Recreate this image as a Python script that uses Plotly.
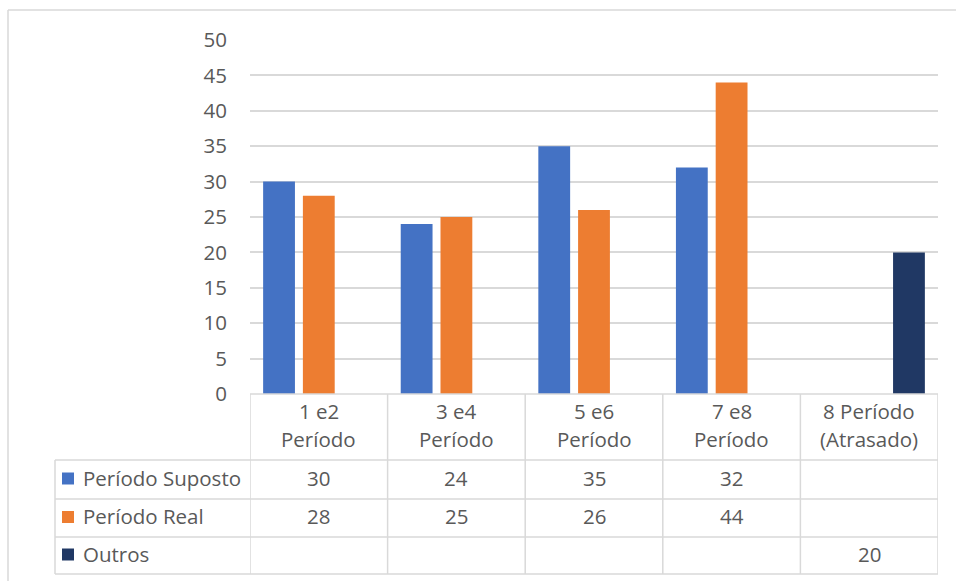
import plotly.graph_objects as go

# Data
categories = ["1 e2<br>Período", "3 e4<br>Período", "5 e6<br>Período",
              "7 e8<br>Período", "8 Período<br>(Atrasado)"]
series_names = ["Período Suposto", "Período Real", "Outros"]
suposto = [30, 24, 35, 32, None]
real = [28, 25, 26, 44, None]
outros = [None, None, None, None, 20]
y_ticks = [0, 5, 10, 15, 20, 25, 30, 35, 40, 45, 50]

colors = ["#4472C4", "#ED7D31", "#203864"]
series_values = [suposto, real, outros]

W, H = 956, 581
FONT = "Open Sans"
FS = 20.5
TXT = "#595959"
GRID = "#D9D9D9"


def py(pixel_y):
    """Convert a pixel row (from top) into paper y."""
    return 1 - pixel_y / H


def px(pixel_x):
    return pixel_x / W


fig = go.Figure()
idx = list(range(len(categories)))
for name, vals, col in zip(series_names, series_values, colors):
    fig.add_trace(go.Bar(x=idx, y=vals, name=name, marker_color=col,
                         marker_line_width=0, showlegend=False))

# layout geometry (pixels)
plot_left, plot_right = 250, 938
plot_top, plot_bottom = 40, 394
row_lines = [460, 499, 537, 574]
legend_left = 55

fig.update_layout(
    width=W, height=H,
    margin=dict(l=0, r=0, t=0, b=0, pad=0, autoexpand=False),
    paper_bgcolor="white", plot_bgcolor="white",
    barmode="group", bargap=0.133, bargroupgap=0.2,
    font=dict(family=FONT, size=FS, color=TXT),
    xaxis=dict(domain=[px(plot_left), px(plot_right)],
               range=[-0.5, len(categories) - 0.5],
               showticklabels=False, showgrid=False, zeroline=False,
               showline=False, fixedrange=True, automargin=False),
    yaxis=dict(domain=[py(plot_bottom), py(plot_top)],
               range=[0, 50], tickvals=y_ticks,
               showgrid=True, gridcolor=GRID, gridwidth=1.5,
               zeroline=False, showline=False, automargin=False,
               ticklabelstandoff=22,
               tickfont=dict(family=FONT, size=FS, color=TXT)),
)

shapes = []
line_style = dict(color=GRID, width=1.5)
# outer chart border
shapes.append(dict(type="line", xref="paper", yref="paper",
                   x0=px(8), x1=1.01, y0=py(10), y1=py(10), line=line_style))
shapes.append(dict(type="line", xref="paper", yref="paper",
                   x0=px(8), x1=px(8), y0=py(10), y1=-0.01, line=line_style))
# table: top border (axis line) across the value columns
shapes.append(dict(type="line", xref="x", yref="paper",
                   x0=-0.5, x1=len(categories) - 0.5,
                   y0=py(plot_bottom), y1=py(plot_bottom), line=line_style))
# horizontal row lines
for r in row_lines:
    shapes.append(dict(type="line", xref="paper", yref="paper",
                       x0=px(legend_left), x1=px(plot_right),
                       y0=py(r), y1=py(r), line=line_style))
# vertical lines at category boundaries
for i in range(len(categories) + 1):
    shapes.append(dict(type="line", xref="x", yref="paper",
                       x0=i - 0.5, x1=i - 0.5,
                       y0=py(plot_bottom), y1=py(row_lines[-1]),
                       line=line_style))
# legend column left edge
shapes.append(dict(type="line", xref="paper", yref="paper",
                   x0=px(legend_left), x1=px(legend_left),
                   y0=py(row_lines[0]), y1=py(row_lines[-1]),
                   line=line_style))

annotations = []
# header row: category labels
for i, cat in enumerate(categories):
    for j, line in enumerate(cat.split("<br>")):
        annotations.append(dict(x=i, xref="x", y=py(411 + 28 * j), yref="paper",
                                text=line, showarrow=False,
                                xanchor="center", yanchor="middle",
                                font=dict(family=FONT, size=FS, color=TXT)))

# data rows
row_centers = [(row_lines[k] + row_lines[k + 1]) / 2 - 2 for k in range(3)]
for name, vals, col, yc in zip(series_names, series_values, colors, row_centers):
    # legend key
    shapes.append(dict(type="rect", xref="paper", yref="paper",
                       x0=px(62), x1=px(74), y0=py(yc + 7), y1=py(yc - 5),
                       fillcolor=col, line=dict(width=0)))
    annotations.append(dict(x=px(81), xref="paper", y=py(yc), yref="paper",
                            text=name, showarrow=False,
                            xanchor="left", yanchor="middle",
                            font=dict(family=FONT, size=FS, color=TXT)))
    for i, v in enumerate(vals):
        if v is None:
            continue
        annotations.append(dict(x=i, xref="x", y=py(yc), yref="paper",
                                text=str(v), showarrow=False,
                                xanchor="center", yanchor="middle",
                                font=dict(family=FONT, size=FS, color=TXT)))

fig.update_layout(shapes=shapes, annotations=annotations)
fig.write_html("out.html")
